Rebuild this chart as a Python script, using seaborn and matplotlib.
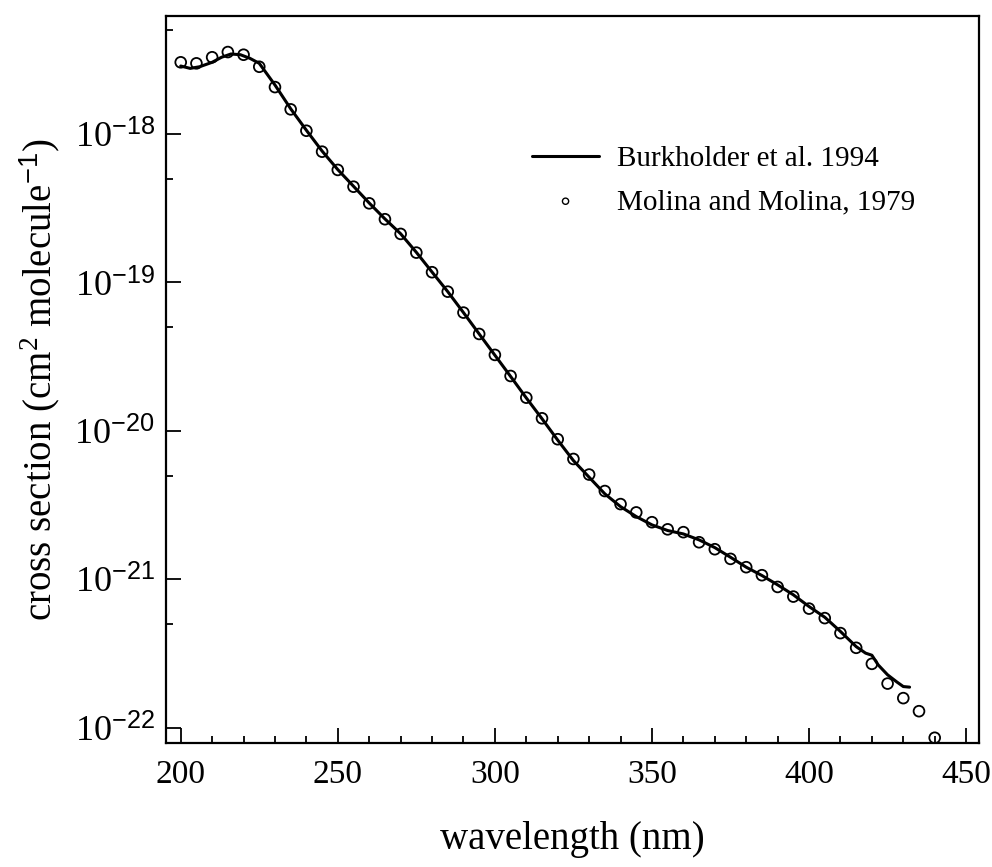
import numpy as np
import pandas as pd
import matplotlib
matplotlib.use("Agg")
import matplotlib.pyplot as plt
import matplotlib.ticker as mticker
import seaborn as sns

# ---- data (log10 of cross section) ----
burk_wl = [200, 203, 206, 210, 213, 216, 219, 222, 225, 230, 235, 240, 245, 250,
           255, 260, 265, 270, 275, 280, 285, 290, 295, 300, 305, 310, 315, 320,
           325, 330, 335, 340, 345, 350, 355, 360, 365, 370, 375, 380, 385, 390,
           395, 400, 405, 410, 415, 418, 420, 422, 425, 428, 430, 432]
burk_log = [-17.542, -17.558, -17.547, -17.517, -17.483, -17.461, -17.466, -17.490,
            -17.524, -17.670, -17.830, -17.975, -18.115, -18.240, -18.352, -18.465,
            -18.572, -18.672, -18.797, -18.930, -19.062, -19.203, -19.347, -19.490,
            -19.633, -19.778, -19.918, -20.062, -20.200, -20.312, -20.424, -20.510,
            -20.577, -20.633, -20.671, -20.694, -20.734, -20.786, -20.851, -20.918,
            -20.974, -21.037, -21.104, -21.183, -21.255, -21.351, -21.453, -21.497,
            -21.511, -21.576, -21.643, -21.692, -21.722, -21.726]

mol_wl = [200, 205, 210, 215, 220, 225, 230, 235, 240, 245, 250, 255, 260, 265,
          270, 275, 280, 285, 290, 295, 300, 305, 310, 315, 320, 325, 330, 335,
          340, 345, 350, 355, 360, 365, 370, 375, 380, 385, 390, 395, 400, 405,
          410, 415, 420, 425, 430, 435, 440]
mol_log = [-17.517, -17.524, -17.483, -17.448, -17.466, -17.547, -17.684, -17.834,
           -17.978, -18.119, -18.242, -18.355, -18.467, -18.574, -18.673, -18.799,
           -18.931, -19.062, -19.203, -19.347, -19.488, -19.630, -19.776, -19.915,
           -20.056, -20.189, -20.294, -20.405, -20.493, -20.549, -20.615, -20.663,
           -20.682, -20.750, -20.797, -20.862, -20.918, -20.972, -21.051, -21.116,
           -21.197, -21.261, -21.362, -21.461, -21.569, -21.702, -21.800, -21.888,
           -22.067]

burk_label = "Burkholder et al. 1994"
mol_label = "Molina and Molina, 1979"
x_ticks = [200, 250, 300, 350, 400, 450]
y_ticks_exp = [-22, -21, -20, -19, -18]

burk = pd.DataFrame({"wl": burk_wl, "xs": 10.0 ** np.array(burk_log)})
mol = pd.DataFrame({"wl": mol_wl, "xs": 10.0 ** np.array(mol_log)})

sns.set_theme(style="ticks")
plt.rcParams["font.family"] = ["Liberation Serif", "DejaVu Serif"]
plt.rcParams["mathtext.fontset"] = "custom"
plt.rcParams["mathtext.rm"] = "Liberation Serif"
plt.rcParams["mathtext.it"] = "Liberation Serif:italic"
plt.rcParams["mathtext.bf"] = "Liberation Serif:bold"
plt.rcParams["mathtext.sf"] = "Liberation Sans"
for k in ["text.color", "axes.labelcolor", "xtick.color", "ytick.color",
          "axes.edgecolor"]:
    plt.rcParams[k] = "black"

fig = plt.figure(figsize=(9.92, 8.67), dpi=100)
ax = fig.add_axes([0.1673, 0.1430, 0.8196, 0.8386])

sns.lineplot(data=burk, x="wl", y="xs", ax=ax, color="black", linewidth=2.2,
             label=burk_label, sort=False)
sns.scatterplot(data=mol, x="wl", y="xs", ax=ax, facecolors="none",
                edgecolor="black", linewidth=1.3, s=60, marker="o",
                label=mol_label, zorder=3)

ax.set_yscale("log")
ax.set_xlim(195.3, 454.1)
ax.set_ylim(7.9e-23, 6.24e-18)

ax.xaxis.set_major_locator(mticker.FixedLocator(x_ticks))
ax.xaxis.set_minor_locator(mticker.MultipleLocator(10))
ax.yaxis.set_major_locator(mticker.FixedLocator([10.0 ** e for e in y_ticks_exp]))
ax.yaxis.set_minor_locator(mticker.LogLocator(base=10, subs=[5.0], numticks=20))
ax.yaxis.set_minor_formatter(mticker.NullFormatter())
ax.yaxis.set_major_formatter(mticker.FuncFormatter(
    lambda v, p: r"$\mathrm{10}^{\mathsf{%d}}$" % int(round(np.log10(v)))))

ax.tick_params(axis="both", which="both", direction="in", top=False, right=False,
               color="black", labelcolor="black", width=1.3)
ax.tick_params(axis="both", which="major", length=11)
ax.tick_params(axis="both", which="minor", length=5)
ax.tick_params(axis="x", which="major", pad=12, labelsize=24)
ax.tick_params(axis="y", which="major", pad=8, labelsize=26)

for sp in ax.spines.values():
    sp.set_visible(True)
    sp.set_color("black")
    sp.set_linewidth(1.6)

ax.set_xlabel("wavelength (nm)", fontsize=28, labelpad=22)
ax.set_ylabel(r"cross section (cm$^{\mathrm{2}}$ molecule$^{\mathsf{-1}}$)",
              fontsize=28, labelpad=9)

leg = ax.legend(loc="upper left", bbox_to_anchor=(532 / 992, 1 - 146 / 867),
                bbox_transform=fig.transFigure, frameon=False, fontsize=21,
                handlelength=2.3, handletextpad=0.6, labelspacing=0.55,
                borderpad=0, borderaxespad=0)
for h in leg.legend_handles:
    if hasattr(h, "set_sizes"):
        h.set_sizes([20])
        h.set_linewidth(1.0)

fig.savefig("out.png", dpi=100)
